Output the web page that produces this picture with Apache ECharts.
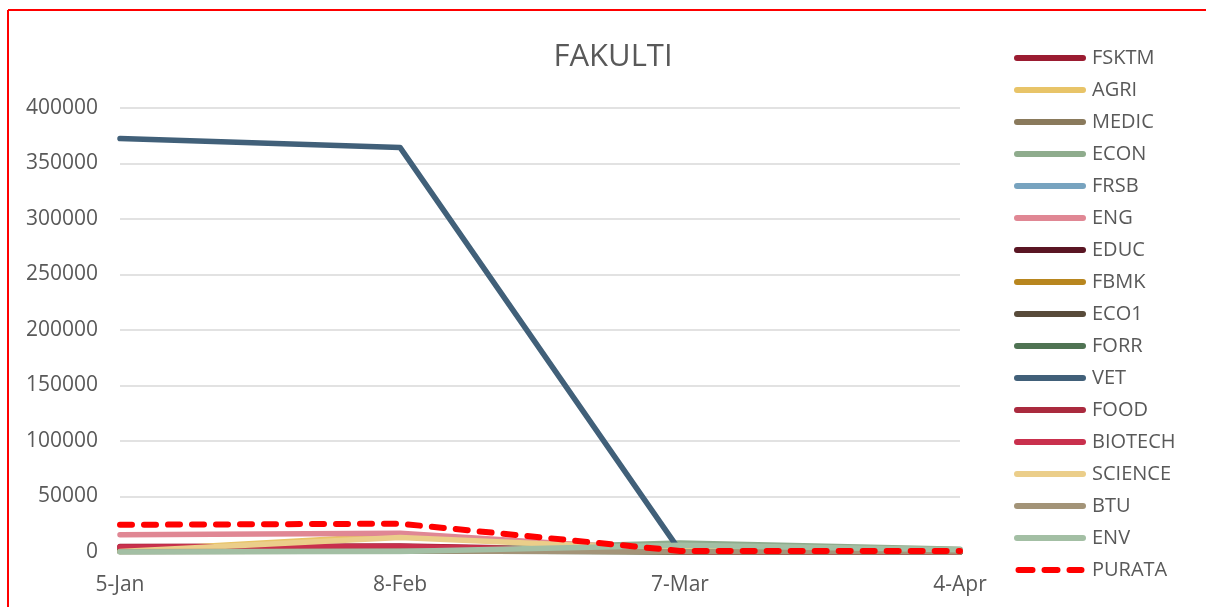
<!DOCTYPE html>
<html><head><meta charset="utf-8">
<script src="https://cdn.jsdelivr.net/npm/echarts@6/dist/echarts.min.js"></script>
<style>html,body{margin:0;padding:0;background:#fff}#c{width:1206px;height:607px}</style>
</head><body><div id="c"></div>
<script>
const categories = ['5-Jan', '8-Feb', '7-Mar', '4-Apr'];
const seriesNames = ['FSKTM','AGRI','MEDIC','ECON','FRSB','ENG','EDUC','FBMK','ECO1','FORR','VET','FOOD','BIOTECH','SCIENCE','BTU','ENV','PURATA'];
const seriesColors = ['#9b1c31','#e8c468','#8a7a5c','#8fac8d','#77a3bf','#e08794','#5a1523','#b8861f','#584b3a','#4f7353','#416079','#aa2a3e','#c9304d','#ebce8a','#a39478','#a3bfa4','#ff0000'];
const FSKTM   = [5000, 5500, 1000, 500];
const AGRI    = [1000, 15000, 2000, 500];
const MEDIC   = [2000, 3000, 500, 200];
const ECON    = [500, 1000, 8000, 2500];
const FRSB    = [1000, 2000, 500, 200];
const ENG     = [15500, 17000, 1000, 500];
const EDUC    = [1500, 2500, 300, 100];
const FBMK    = [800, 1500, 300, 100];
const ECO1    = [600, 1200, 200, 100];
const FORR    = [700, 1000, 300, 100];
const VET     = [372500, 364500, 1000, 500];
const FOOD    = [4000, 4500, 500, 300];
const BIOTECH = [4500, 5000, 500, 300];
const SCIENCE = [500, 13000, 2000, 500];
const BTU     = [300, 800, 200, 100];
const ENV     = [0, 500, 6000, 2000];
const PURATA  = [24500, 25500, 1000, 800];
const seriesData = [FSKTM,AGRI,MEDIC,ECON,FRSB,ENG,EDUC,FBMK,ECO1,FORR,VET,FOOD,BIOTECH,SCIENCE,BTU,ENV,PURATA];
const yTicks = [0, 50000, 100000, 150000, 200000, 250000, 300000, 350000, 400000];

const font = '"Open Sans", "Liberation Sans", sans-serif';
const txt = '#595959';
const solidIcon = 'path://M3,0 L69,0 A3,3 0 0 1 69,6 L3,6 A3,3 0 0 1 3,0 Z';
const dashIcon = 'path://M3,0 L17,0 A3,3 0 0 1 17,6 L3,6 A3,3 0 0 1 3,0 Z M29,0 L42,0 A3,3 0 0 1 42,6 L29,6 A3,3 0 0 1 29,0 Z M54,0 L66,0 A3,3 0 0 1 66,6 L54,6 A3,3 0 0 1 54,0 Z';
const chart = echarts.init(document.getElementById('c'));
chart.setOption({
  animation: false,
  backgroundColor: '#fff',
  title: { text: 'FAKULTI', left: 608, top: 37, textAlign: 'center',
    textStyle: { fontFamily: font, fontSize: 31, fontWeight: 'normal', color: txt } },
  grid: { left: 120, right: 246, top: 108, bottom: 55, containLabel: false },
  xAxis: { type: 'category', data: categories, boundaryGap: false,
    axisLine: { lineStyle: { color: '#d9d9d9', width: 1.5 } },
    axisTick: { show: false },
    axisLabel: { fontFamily: font, fontSize: 21, color: txt, margin: 23 } },
  yAxis: { type: 'value', min: yTicks[0], max: yTicks[yTicks.length-1], interval: 50000,
    axisLine: { show: false }, axisTick: { show: false },
    splitLine: { lineStyle: { color: '#d9d9d9', width: 1.5 } },
    axisLabel: { fontFamily: font, fontSize: 21, color: txt, margin: 22, formatter: v => String(v) } },
  legend: { orient: 'vertical', left: 1009, top: 43, itemWidth: 72, itemHeight: 6, itemGap: 12,
    textStyle: { fontFamily: font, fontSize: 20, color: txt, lineHeight: 20, padding: [0,0,0,1] },
    data: seriesNames.map(n => ({ name: n, icon: n === 'PURATA' ? dashIcon : solidIcon })) },
  series: seriesNames.map((n, i) => ({
    name: n, type: 'line', data: seriesData[i], symbol: 'none', smooth: false,
    color: seriesColors[i],
    lineStyle: n === 'PURATA'
      ? { color: seriesColors[i], width: 6, type: [12, 12], cap: 'round' }
      : { color: seriesColors[i], width: 5.5, cap: 'round', join: 'round' },
    z: 2 + i
  })),
  graphic: [
    { type: 'line', shape: { x1: 8, y1: 10, x2: 8, y2: 607 }, style: { stroke: '#ff0000', lineWidth: 2 } },
    { type: 'line', shape: { x1: 8, y1: 10, x2: 1206, y2: 10 }, style: { stroke: '#ff0000', lineWidth: 2 } }
  ]
});
</script></body></html>
